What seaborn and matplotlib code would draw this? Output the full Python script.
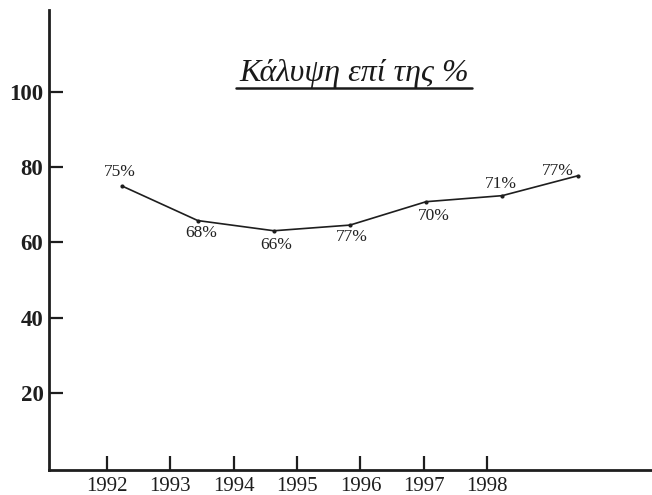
import matplotlib
matplotlib.use("Agg")
import matplotlib.pyplot as plt
import seaborn as sns
import pandas as pd
from matplotlib.lines import Line2D

# ---- data ----
years = [1992, 1993, 1994, 1995, 1996, 1997, 1998]
coverage = [75.0, 65.8, 63.1, 64.6, 70.8, 72.4, 77.7]
point_labels = ["75%", "68%", "66%", "77%", "70%", "71%", "77%"]
y_ticks = [20, 40, 60, 80, 100]
title_text = "Κάλυψη επί της %"

# In the scanned original the plotted points are spaced wider than the year ticks
point_stretch = 1.2008
point_offset = 0.232

sns.set_theme(style="ticks")
plt.rcParams["font.family"] = ["Liberation Serif", "DejaVu Serif"]

fig = plt.figure(figsize=(6.52, 4.95), dpi=100)
ax = fig.add_axes([49 / 652, 1 - 470 / 495, 1 - 49 / 652, 460 / 495])

df = pd.DataFrame({"year": years, "coverage": coverage, "label": point_labels})
df["pos"] = [years[0] + point_offset + (y - years[0]) * point_stretch for y in years]

sns.lineplot(data=df, x="pos", y="coverage", ax=ax, color="#1e1e1e",
             linewidth=1.2, marker="o", markersize=3, markeredgewidth=0)

# label offsets (pixels) to mimic the original's placement
offsets = [(-2, 14), (3, -12), (2, -14), (2, -12), (8, -14), (-1, 12), (-20, 5)]
for (_, r), (dx, dy) in zip(df.iterrows(), offsets):
    ax.annotate(r["label"], (r["pos"], r["coverage"]), xytext=(dx, dy),
                textcoords="offset pixels", ha="center", va="center",
                fontsize=12.5, color="#222222")

ax.set_xlim(1991.085, 2000.6)
ax.set_ylim(-0.3, 121.6)
ax.set_xticks(years)
ax.set_xticklabels([str(y) for y in years], fontsize=15)
ax.set_yticks(y_ticks)
ax.set_yticklabels([str(v) for v in y_ticks], fontsize=16.5, fontweight="bold")
ax.tick_params(axis="both", direction="in", length=10, width=1.6, colors="#1e1e1e",
               pad=4)
ax.tick_params(axis="x", pad=5)
ax.set_xlabel("")
ax.set_ylabel("")
for s in ["top", "right"]:
    ax.spines[s].set_visible(False)
for s in ["left", "bottom"]:
    ax.spines[s].set_linewidth(2)
    ax.spines[s].set_color("#1e1e1e")

fig.text(354 / 652, 1 - 74 / 495, title_text, ha="center", va="center",
         fontsize=23, fontstyle="italic", color="#1a1a1a")
fig.add_artist(Line2D([236 / 652, 472 / 652], [1 - 88 / 495, 1 - 88 / 495],
                      transform=fig.transFigure, color="#1a1a1a", linewidth=1.8))

fig.savefig("out.png", dpi=100)
